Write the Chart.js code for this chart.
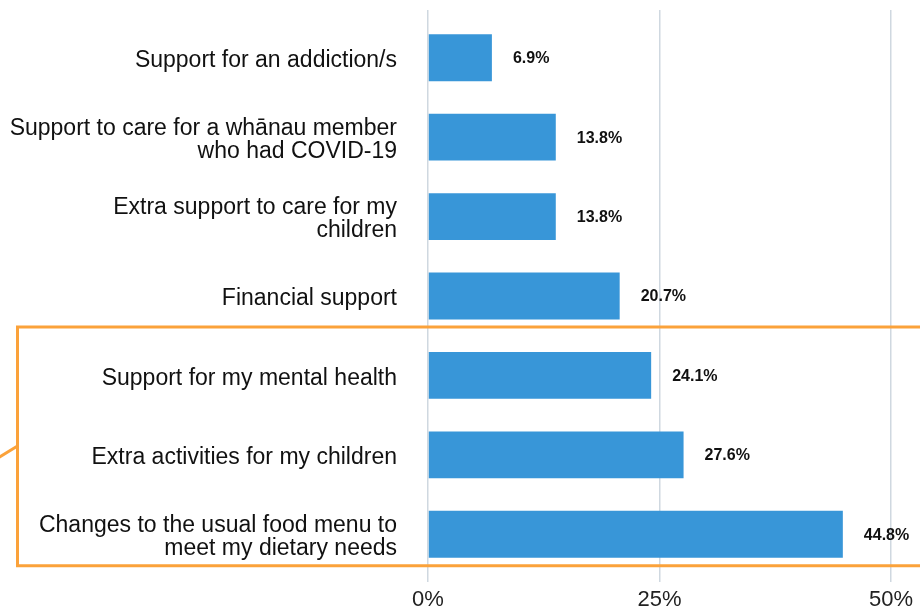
<!DOCTYPE html>
<html>
<head>
<meta charset="utf-8">
<script src="https://cdn.jsdelivr.net/npm/chart.js@4/dist/chart.umd.min.js"></script>
<style>
  html, body { margin: 0; padding: 0; background: #fff; overflow: hidden; }
  canvas { display: block; }
</style>
</head>
<body>
<canvas id="support-chart" width="920" height="613"></canvas>
<script>
var categories = [
  'Support for an addiction/s',
  ['Support to care for a whānau member', 'who had COVID-19'],
  ['Extra support to care for my', 'children'],
  'Financial support',
  'Support for my mental health',
  'Extra activities for my children',
  ['Changes to the usual food menu to', 'meet my dietary needs']
];
var percentages = [6.9, 13.8, 13.8, 20.7, 24.1, 27.6, 44.8];
var axisTicks = [0, 25, 50];
// rows from this index down get the orange highlight box
var highlightFrom = 4;

var fontFamily = "'Liberation Sans', Arial, sans-serif";
var gridColor = '#cfd8e0';

// percentage text to the right of each bar
var valueLabels = {
  id: 'valueLabels',
  afterDatasetsDraw: function(chart) {
    var ctx = chart.ctx;
    var meta = chart.getDatasetMeta(0);
    ctx.save();
    ctx.font = 'bold 16px ' + fontFamily;
    ctx.fillStyle = '#111';
    ctx.textAlign = 'left';
    ctx.textBaseline = 'middle';
    meta.data.forEach(function(bar, i) {
      ctx.fillText(percentages[i].toFixed(1) + '%', bar.x + 21, bar.y + 1);
    });
    ctx.restore();
  }
};

// orange box round the last rows, with its pointer line on the left
var highlightBox = {
  id: 'highlightBox',
  afterDraw: function(chart) {
    var ctx = chart.ctx;
    var meta = chart.getDatasetMeta(0);
    var above = meta.data[highlightFrom - 1];
    var last = meta.data[meta.data.length - 1];
    var top = above.y + above.height / 2 + 7.5;
    var bottom = last.y + last.height / 2 + 8;
    var left = 17.5;
    ctx.save();
    ctx.strokeStyle = '#fba23a';
    ctx.lineWidth = 3;
    ctx.beginPath();
    ctx.moveTo(chart.width + 10, top);
    ctx.lineTo(left, top);
    ctx.lineTo(left, bottom);
    ctx.lineTo(chart.width + 10, bottom);
    ctx.stroke();
    ctx.beginPath();
    ctx.moveTo(-2, 458);
    ctx.lineTo(left, 446);
    ctx.stroke();
    ctx.restore();
  }
};

var ctx = document.getElementById('support-chart').getContext('2d');
var chart = new Chart(ctx, {
  type: 'bar',
  data: {
    labels: categories,
    datasets: [{
      data: percentages,
      backgroundColor: '#3896d8',
      borderWidth: 0,
      categoryPercentage: 1,
      barPercentage: 0.59
    }]
  },
  options: {
    indexAxis: 'y',
    responsive: false,
    animation: false,
    layout: { padding: { top: 10, right: 29, bottom: 1, left: 0 } },
    plugins: {
      legend: { display: false },
      tooltip: { enabled: false }
    },
    scales: {
      x: {
        min: axisTicks[0],
        max: axisTicks[axisTicks.length - 1],
        afterBuildTicks: function(scale) {
          scale.ticks = axisTicks.map(function(v) { return { value: v }; });
        },
        // tick mark + padding + one line of text, without the doubled padding
        afterFit: function(scale) { scale.height = 38; },
        border: { display: false },
        grid: { color: gridColor, lineWidth: 1.5, tickLength: 8, drawTicks: true },
        ticks: {
          padding: 7,
          color: '#222',
          font: { family: fontFamily, size: 22, lineHeight: 1 },
          callback: function(v) { return v + '%'; }
        }
      },
      xTop: {
        type: 'linear',
        position: 'top',
        min: axisTicks[0],
        max: axisTicks[axisTicks.length - 1],
        afterBuildTicks: function(scale) {
          scale.ticks = axisTicks.map(function(v) { return { value: v }; });
        },
        border: { display: false },
        grid: { color: gridColor, lineWidth: 1.5, tickLength: 8, drawTicks: true, drawOnChartArea: false },
        ticks: { display: false }
      },
      y: {
        afterFit: function(scale) {
          // labels sit inside their bands, so no extra room above/below
          scale.width = 428;
          scale.paddingTop = 0;
          scale.paddingBottom = 0;
        },
        border: { display: false },
        grid: { display: false, drawTicks: false },
        ticks: {
          padding: 31,
          labelOffset: 3,
          color: '#111',
          font: { family: fontFamily, size: 23, lineHeight: 1 }
        }
      }
    }
  },
  plugins: [valueLabels, highlightBox]
});
</script>
</body>
</html>
